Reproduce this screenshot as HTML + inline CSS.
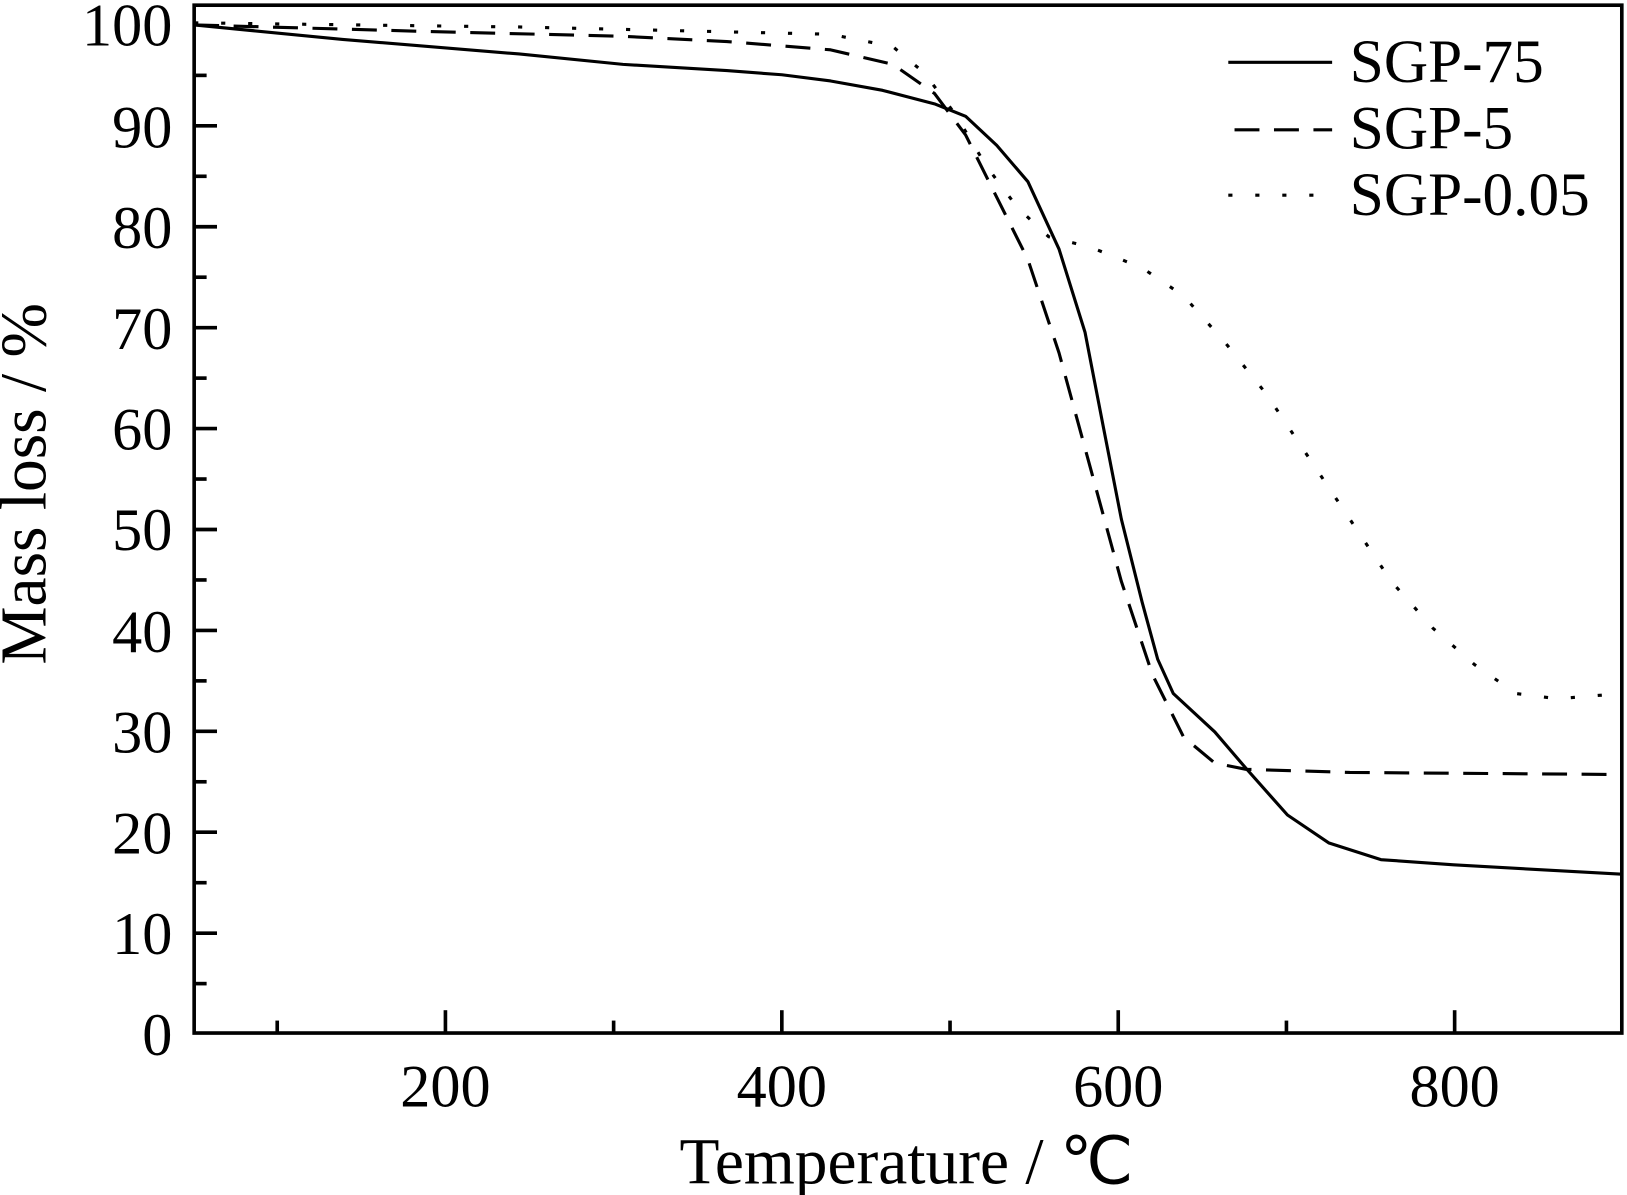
<!DOCTYPE html>
<html><head><style>html,body{margin:0;padding:0;background:#fff}svg{display:block}</style></head>
<body>
<svg width="1627" height="1195" viewBox="0 0 1567 1151" preserveAspectRatio="none" xmlns="http://www.w3.org/2000/svg" font-family="'Liberation Serif',serif">
<rect x="187" y="5" width="1375" height="990" fill="none" stroke="#000" stroke-width="3.5"/>
<g stroke="#000" stroke-width="3.5">
<line x1="429" y1="995" x2="429" y2="973"/><line x1="753" y1="995" x2="753" y2="973"/><line x1="1077" y1="995" x2="1077" y2="973"/><line x1="1401" y1="995" x2="1401" y2="973"/>
<line x1="267" y1="995" x2="267" y2="983"/><line x1="591" y1="995" x2="591" y2="983"/><line x1="915" y1="995" x2="915" y2="983"/><line x1="1239" y1="995" x2="1239" y2="983"/>
<line x1="187" y1="898.8" x2="209" y2="898.8"/><line x1="187" y1="801.6" x2="209" y2="801.6"/><line x1="187" y1="704.4" x2="209" y2="704.4"/><line x1="187" y1="607.2" x2="209" y2="607.2"/><line x1="187" y1="510" x2="209" y2="510"/><line x1="187" y1="412.8" x2="209" y2="412.8"/><line x1="187" y1="315.6" x2="209" y2="315.6"/><line x1="187" y1="218.4" x2="209" y2="218.4"/><line x1="187" y1="121.2" x2="209" y2="121.2"/>
<line x1="187" y1="947.4" x2="199" y2="947.4"/><line x1="187" y1="850.2" x2="199" y2="850.2"/><line x1="187" y1="753" x2="199" y2="753"/><line x1="187" y1="655.8" x2="199" y2="655.8"/><line x1="187" y1="558.6" x2="199" y2="558.6"/><line x1="187" y1="461.4" x2="199" y2="461.4"/><line x1="187" y1="364.2" x2="199" y2="364.2"/><line x1="187" y1="267" x2="199" y2="267"/><line x1="187" y1="169.8" x2="199" y2="169.8"/><line x1="187" y1="72.6" x2="199" y2="72.6"/>
</g>
<g font-size="58" text-anchor="end">
<text x="166" y="1016">0</text><text x="166" y="919">10</text><text x="166" y="822">20</text><text x="166" y="725">30</text><text x="166" y="628">40</text><text x="166" y="530">50</text><text x="166" y="433">60</text><text x="166" y="336">70</text><text x="166" y="239">80</text><text x="166" y="142">90</text><text x="166" y="44">100</text>
</g>
<g font-size="58" text-anchor="middle">
<text x="429" y="1066">200</text><text x="753" y="1066">400</text><text x="1077" y="1066">600</text><text x="1401" y="1066">800</text>
<text x="873" y="1140" font-size="63">Temperature / ℃</text>
<text transform="translate(44,466) rotate(-90)" font-size="63">Mass loss / %</text>
</g>
<g fill="none" stroke="#000" stroke-width="3" stroke-linejoin="round">
<polyline points="187,24 330,38 500,52 600,62 700,68 753,72 800,78 850,87 900,100 930,112 960,140 990,175 1020,240 1045,320 1063,413 1080,500 1100,580 1115,635 1130,668 1170,705 1200,740 1240,785 1280,812 1330,828 1400,833 1562,842"/>
<polyline stroke-dasharray="24,14" points="187,24 400,30 600,35 700,40 800,48 860,62 900,90 930,130 960,190 990,250 1020,340 1050,450 1080,560 1110,650 1140,710 1170,735 1200,741 1300,744 1562,746"/>
<polyline stroke-dasharray="4,22" points="187,22 500,26 800,33 860,45 890,70 920,110 950,160 980,200 1010,228 1050,238 1100,258 1140,285 1180,330 1220,380 1260,440 1300,500 1340,560 1380,605 1420,640 1460,668 1500,673 1562,668"/>
<line x1="1183" y1="60" x2="1283" y2="60"/>
<line x1="1183" y1="125" x2="1283" y2="125" stroke-dasharray="24,14" stroke-dashoffset="-6"/>
<line x1="1183" y1="188" x2="1283" y2="188" stroke-dasharray="4,22"/>
</g>
<g font-size="59"><text x="1300" y="79">SGP-75</text><text x="1300" y="143">SGP-5</text><text x="1300" y="207">SGP-0.05</text></g>
</svg>
</body></html>
